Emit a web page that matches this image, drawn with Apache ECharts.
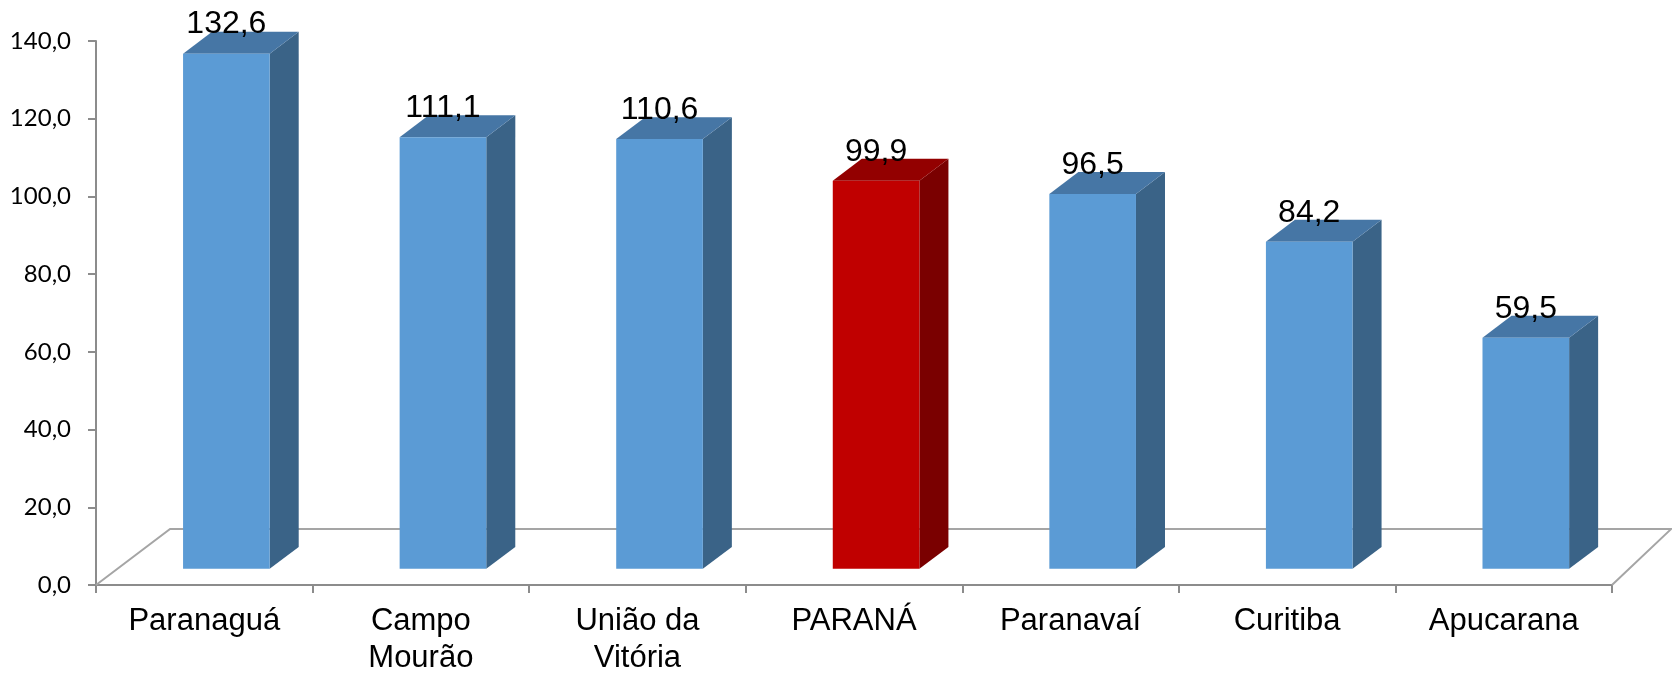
<!DOCTYPE html>
<html><head><meta charset="utf-8">
<script src="https://cdn.jsdelivr.net/npm/echarts@6/dist/echarts.min.js"></script>
<style>html,body{margin:0;padding:0;background:#fff}#c{width:1672px;height:674px}</style>
</head><body><div id="c"></div>
<script>
const categories = ['Paranaguá', 'Campo\nMourão', 'União da\nVitória', 'PARANÁ', 'Paranavaí', 'Curitiba', 'Apucarana'];
const values = [132.6, 111.1, 110.6, 99.9, 96.5, 84.2, 59.5];
const highlightCategory = 'PARANÁ';
const yMin = 0, yMax = 140, yStep = 20;

const BLUE = { front: '#5B9BD5', top: '#4676A5', side: '#3A6387' };
const RED = { front: '#C00000', top: '#930000', side: '#7A0000' };
const K = 0.757; // oblique projection slope
const fmt = v => v.toFixed(1).replace('.', ',');

const chart = echarts.init(document.getElementById('c'), null, { renderer: 'canvas' });

function renderFloor(params, api) {
  const bw = api.size([1, 0])[0];
  const p0 = api.coord([0, 0]);
  const left = p0[0] - bw / 2;
  const right = p0[0] + bw * (categories.length - 0.5);
  const fy = p0[1];
  const fd = bw * 0.342;
  const by = fy - fd * K;
  const st = { stroke: '#A5A5A5', lineWidth: 2, fill: null };
  return {
    type: 'group',
    children: [
      { type: 'polyline', shape: { points: [[left, fy], [left + fd, by], [right + fd * 0.8, by], [right, fy]] }, style: st, silent: true }
    ]
  };
}

function renderBar(params, api) {
  const i = api.value(0), v = api.value(1);
  const base = api.coord([i, 0]);
  const top = api.coord([i, v]);
  const bw = api.size([1, 0])[0];
  const w = bw * 0.40;
  const sx = bw * 0.102, sy = -sx * 0.73;
  const dx = bw * 0.134, dy = -dx * K;
  const x0 = base[0] + sx - w / 2, x1 = x0 + w;
  const yb = base[1] + sy, yt = top[1] + sy;
  const c = categories[i] === highlightCategory ? RED : BLUE;
  return {
    type: 'group',
    children: [
      { type: 'polygon', shape: { points: [[x1, yt], [x1 + dx, yt + dy], [x1 + dx, yb + dy], [x1, yb]] }, style: { fill: c.side } },
      { type: 'polygon', shape: { points: [[x0, yt], [x1, yt], [x1 + dx, yt + dy], [x0 + dx, yt + dy]] }, style: { fill: c.top } },
      { type: 'rect', shape: { x: x0, y: yt, width: w, height: yb - yt }, style: { fill: c.front } },
      { type: 'text', x: x0 + w / 2, y: yt - 29, style: { text: fmt(v), fill: '#000', font: '32px "Liberation Sans", Arial, sans-serif', align: 'center', verticalAlign: 'middle' } }
    ]
  };
}

chart.setOption({
  animation: false,
  backgroundColor: '#fff',
  grid: { left: 96, right: 60, top: 41, bottom: 89, containLabel: false, outerBoundsMode: 'none' },
  xAxis: {
    type: 'category',
    data: categories,
    axisLine: { lineStyle: { color: '#8C8C8C', width: 2 } },
    axisTick: { show: true, length: 8, lineStyle: { color: '#8C8C8C', width: 2 } },
    axisLabel: { interval: 0, margin: 18, color: '#000', fontSize: 31, lineHeight: 37, fontFamily: '"Liberation Sans", Arial, sans-serif', verticalAlign: 'top' },
    splitLine: { show: false }
  },
  yAxis: {
    type: 'value',
    min: yMin, max: yMax, interval: yStep,
    axisLine: { show: true, lineStyle: { color: '#8C8C8C', width: 2 } },
    axisTick: { show: true, length: 8, lineStyle: { color: '#8C8C8C', width: 2 } },
    axisLabel: { margin: 25, color: '#000', fontSize: 24, fontFamily: 'Lato, "Liberation Sans", sans-serif', formatter: v => fmt(v) },
    splitLine: { show: false }
  },
  series: [
    { type: 'custom', name: 'floor', data: [[0]], renderItem: renderFloor, clip: false, silent: true, z: 1 },
    { type: 'custom', name: 'valores', data: values.map((v, i) => [i, v]), encode: { x: 0, y: 1 }, renderItem: renderBar, clip: false, z: 2 }
  ]
});
</script>
</body></html>
